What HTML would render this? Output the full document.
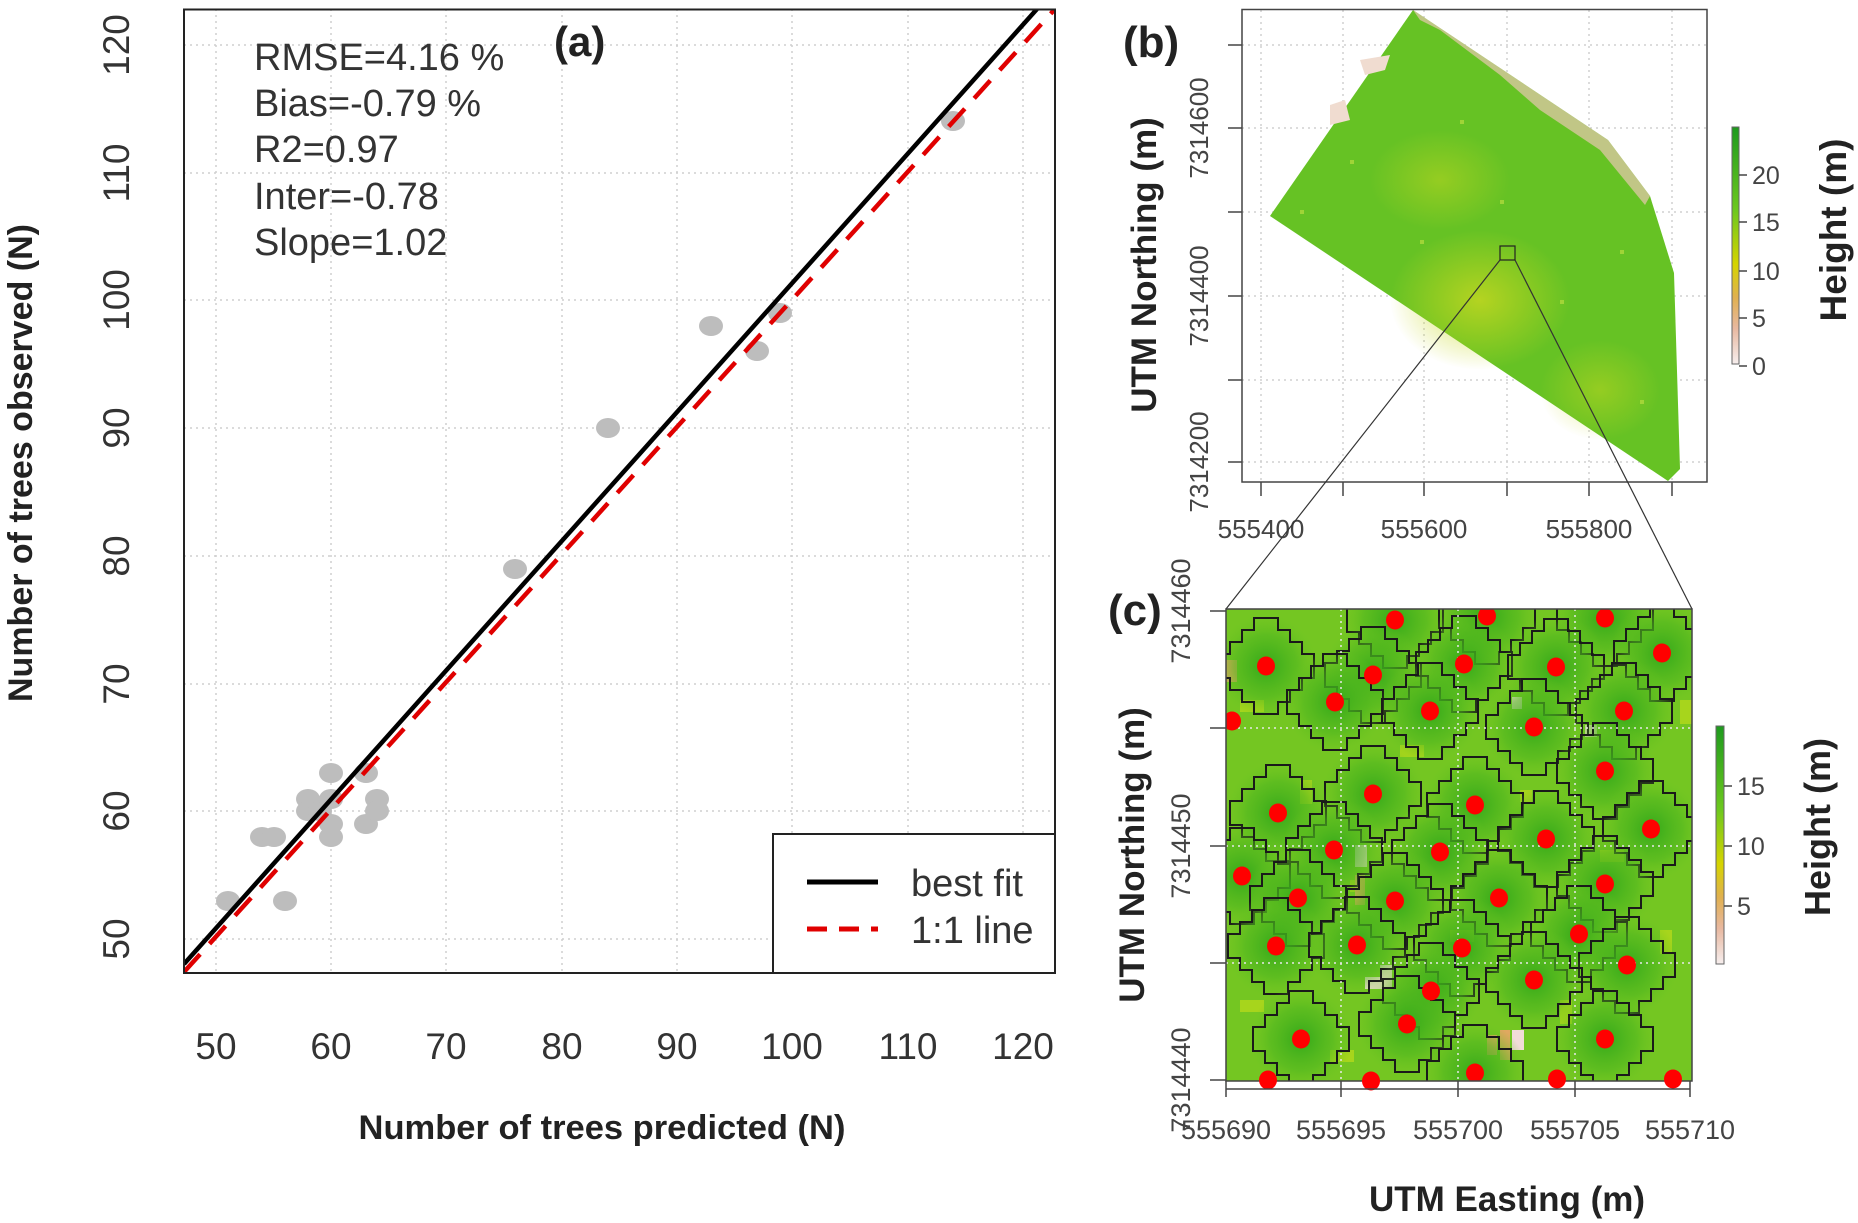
<!DOCTYPE html>
<html><head><meta charset="utf-8"><style>
html,body{margin:0;padding:0;background:#fff}
svg{display:block}
text{font-family:"Liberation Sans",sans-serif}
.t{fill:#333}
.b{font-weight:bold;fill:#222}
</style></head><body>
<svg width="1858" height="1223" viewBox="0 0 1858 1223" xmlns="http://www.w3.org/2000/svg">
<defs>
<clipPath id="ca"><rect x="184" y="9.5" width="871" height="963.5"/></clipPath>
<clipPath id="cc"><rect x="1226" y="609" width="466" height="472"/></clipPath>
<linearGradient id="cb" x1="0" y1="0" x2="0" y2="1">
<stop offset="0" stop-color="#1e9a1e"/><stop offset="0.35" stop-color="#6cc81e"/>
<stop offset="0.58" stop-color="#d6d400"/><stop offset="0.72" stop-color="#e0b050"/>
<stop offset="0.85" stop-color="#e8b8a0"/><stop offset="1" stop-color="#f6eeee"/></linearGradient>
<radialGradient id="yel" cx="0.5" cy="0.5" r="0.5"><stop offset="0" stop-color="#c8d820" stop-opacity="0.8"/><stop offset="1" stop-color="#c8d820" stop-opacity="0"/></radialGradient>
<radialGradient id="dk" cx="0.5" cy="0.5" r="0.5"><stop offset="0" stop-color="#33a81a"/><stop offset="0.6" stop-color="#4fb71e" stop-opacity="0.6"/><stop offset="1" stop-color="#6cc520" stop-opacity="0"/></radialGradient>
<g id="cr"><circle r="52" fill="url(#dk)"/><path d="M-12,-48H12V-36H24V-24H36V-12H48V12H36V24H24V36H12V48H-12V36H-24V24H-36V12H-48V-12H-36V-24H-24V-36H-12Z" fill="none" stroke="#1a1a1a" stroke-width="2"/></g>
</defs>

<!-- Panel (a) -->
<g clip-path="url(#ca)">
<g stroke="#cfcfcf" stroke-width="1.5" stroke-dasharray="2,4">
<line x1="216" y1="9" x2="216" y2="973"/><line x1="331" y1="9" x2="331" y2="973"/><line x1="446" y1="9" x2="446" y2="973"/><line x1="562" y1="9" x2="562" y2="973"/><line x1="677" y1="9" x2="677" y2="973"/><line x1="792" y1="9" x2="792" y2="973"/><line x1="908" y1="9" x2="908" y2="973"/><line x1="1023" y1="9" x2="1023" y2="973"/>
<line x1="184" y1="939" x2="1055" y2="939"/><line x1="184" y1="811" x2="1055" y2="811"/><line x1="184" y1="684" x2="1055" y2="684"/><line x1="184" y1="556" x2="1055" y2="556"/><line x1="184" y1="428" x2="1055" y2="428"/><line x1="184" y1="300" x2="1055" y2="300"/><line x1="184" y1="173" x2="1055" y2="173"/><line x1="184" y1="45" x2="1055" y2="45"/>
</g>
<g fill="#bdbdbd">
<ellipse cx="228" cy="901" rx="12" ry="10"/><ellipse cx="262" cy="837" rx="12" ry="10"/><ellipse cx="274" cy="837" rx="12" ry="10"/><ellipse cx="285" cy="901" rx="12" ry="10"/>
<ellipse cx="308" cy="799" rx="12" ry="10"/><ellipse cx="308" cy="811" rx="12" ry="10"/><ellipse cx="320" cy="811" rx="12" ry="10"/>
<ellipse cx="331" cy="773" rx="12" ry="10"/><ellipse cx="331" cy="799" rx="12" ry="10"/><ellipse cx="331" cy="824" rx="12" ry="10"/><ellipse cx="331" cy="837" rx="12" ry="10"/>
<ellipse cx="366" cy="773" rx="12" ry="10"/><ellipse cx="366" cy="824" rx="12" ry="10"/><ellipse cx="377" cy="799" rx="12" ry="10"/><ellipse cx="377" cy="811" rx="12" ry="10"/>
<ellipse cx="515" cy="569" rx="12" ry="10"/><ellipse cx="608" cy="428" rx="12" ry="10"/><ellipse cx="711" cy="326" rx="12" ry="10"/><ellipse cx="757" cy="351" rx="12" ry="10"/><ellipse cx="780" cy="313" rx="12" ry="10"/><ellipse cx="953" cy="121" rx="12" ry="10"/>
</g>
<line x1="184" y1="972" x2="1055" y2="9" stroke="#e00000" stroke-width="4.5" stroke-dasharray="24,14"/>
<line x1="184" y1="964" x2="1037" y2="9" stroke="#000" stroke-width="4.5"/>
</g>
<rect x="184" y="9.5" width="871" height="963.5" fill="none" stroke="#222" stroke-width="2"/>
<rect x="773" y="834" width="282" height="139" fill="#fff" stroke="#222" stroke-width="2"/>
<line x1="807" y1="882" x2="878" y2="882" stroke="#000" stroke-width="5"/>
<line x1="807" y1="929" x2="878" y2="929" stroke="#e00000" stroke-width="5" stroke-dasharray="20,12"/>
<text x="911" y="896" font-size="38" class="t">best fit</text>
<text x="911" y="943" font-size="38" class="t">1:1 line</text>
<g font-size="38" class="t">
<text x="254" y="70">RMSE=4.16 %</text><text x="254" y="116">Bias=-0.79 %</text><text x="254" y="162">R2=0.97</text><text x="254" y="209">Inter=-0.78</text><text x="254" y="255">Slope=1.02</text>
</g>
<text x="554" y="56" font-size="42" class="b">(a)</text>
<g font-size="37" class="t" text-anchor="middle">
<text x="216" y="1059">50</text><text x="331" y="1059">60</text><text x="446" y="1059">70</text><text x="562" y="1059">80</text><text x="677" y="1059">90</text><text x="792" y="1059">100</text><text x="908" y="1059">110</text><text x="1023" y="1059">120</text>
</g>
<g font-size="37" class="t" text-anchor="middle">
<text transform="translate(129,939) rotate(-90)">50</text><text transform="translate(129,811) rotate(-90)">60</text><text transform="translate(129,684) rotate(-90)">70</text><text transform="translate(129,556) rotate(-90)">80</text><text transform="translate(129,428) rotate(-90)">90</text><text transform="translate(129,300) rotate(-90)">100</text><text transform="translate(129,173) rotate(-90)">110</text><text transform="translate(129,45) rotate(-90)">120</text>
</g>
<text x="602" y="1139" font-size="34.5" class="b" text-anchor="middle">Number of trees predicted (N)</text>
<text transform="translate(32,463) rotate(-90)" font-size="34" class="b" text-anchor="middle">Number of trees observed (N)</text>

<!-- Panel (b) -->
<g stroke="#d0d0d0" stroke-width="1.5" stroke-dasharray="2,4">
<line x1="1261" y1="10" x2="1261" y2="482"/><line x1="1343" y1="10" x2="1343" y2="482"/><line x1="1424" y1="10" x2="1424" y2="482"/><line x1="1507" y1="10" x2="1507" y2="482"/><line x1="1589" y1="10" x2="1589" y2="482"/><line x1="1672" y1="10" x2="1672" y2="482"/>
<line x1="1242" y1="45" x2="1707" y2="45"/><line x1="1242" y1="128" x2="1707" y2="128"/><line x1="1242" y1="212" x2="1707" y2="212"/><line x1="1242" y1="296" x2="1707" y2="296"/><line x1="1242" y1="380" x2="1707" y2="380"/><line x1="1242" y1="462" x2="1707" y2="462"/>
</g>
<polygon points="1413,10 1608,140 1650,196 1674,273 1680,469 1668,481 1270,216" fill="#66c224"/>
<ellipse cx="1480" cy="300" rx="90" ry="70" fill="url(#yel)"/>
<ellipse cx="1440" cy="180" rx="70" ry="50" fill="url(#yel)" opacity="0.6"/>
<ellipse cx="1600" cy="390" rx="60" ry="50" fill="url(#yel)" opacity="0.6"/>
<polygon points="1413,10 1608,140 1650,196 1645,205 1600,150 1540,110 1500,75 1440,30 1420,20" fill="#e8c8b0" opacity="0.7"/>
<polygon points="1360,60 1390,55 1385,70 1365,75" fill="#f0dcd0"/>
<polygon points="1330,105 1345,100 1350,120 1330,125" fill="#f0dcd0"/>
<g fill="#b8dc40" opacity="0.7"><rect x="1350" y="160" width="4" height="4"/><rect x="1420" y="240" width="4" height="4"/><rect x="1500" y="200" width="4" height="4"/><rect x="1560" y="300" width="4" height="4"/><rect x="1620" y="250" width="4" height="4"/><rect x="1460" y="120" width="4" height="4"/><rect x="1300" y="210" width="4" height="4"/><rect x="1640" y="400" width="4" height="4"/></g>
<rect x="1242" y="9.5" width="465" height="472.5" fill="none" stroke="#444" stroke-width="1.5"/>
<g stroke="#444" stroke-width="1.5">
<line x1="1261" y1="482" x2="1261" y2="496"/><line x1="1343" y1="482" x2="1343" y2="496"/><line x1="1424" y1="482" x2="1424" y2="496"/><line x1="1507" y1="482" x2="1507" y2="496"/><line x1="1589" y1="482" x2="1589" y2="496"/><line x1="1672" y1="482" x2="1672" y2="496"/>
<line x1="1228" y1="45" x2="1242" y2="45"/><line x1="1228" y1="128" x2="1242" y2="128"/><line x1="1228" y1="212" x2="1242" y2="212"/><line x1="1228" y1="296" x2="1242" y2="296"/><line x1="1228" y1="380" x2="1242" y2="380"/><line x1="1228" y1="462" x2="1242" y2="462"/>
</g>
<g font-size="26" fill="#444" text-anchor="middle">
<text x="1261" y="538">555400</text><text x="1424" y="538">555600</text><text x="1589" y="538">555800</text>
<text transform="translate(1208,128) rotate(-90)">7314600</text><text transform="translate(1208,296) rotate(-90)">7314400</text><text transform="translate(1208,462) rotate(-90)">7314200</text>
</g>
<text transform="translate(1156,265) rotate(-90)" font-size="35" class="b" text-anchor="middle">UTM Northing (m)</text>
<text x="1123" y="57" font-size="44" class="b" fill="#111">(b)</text>
<rect x="1732" y="127" width="7" height="237" fill="url(#cb)" stroke="#666" stroke-width="1"/>
<g stroke="#444" stroke-width="1.5"><line x1="1739" y1="175" x2="1747" y2="175"/><line x1="1739" y1="222" x2="1747" y2="222"/><line x1="1739" y1="271" x2="1747" y2="271"/><line x1="1739" y1="318" x2="1747" y2="318"/><line x1="1739" y1="366" x2="1747" y2="366"/></g>
<g font-size="25" fill="#444"><text x="1752" y="184">20</text><text x="1752" y="231">15</text><text x="1752" y="280">10</text><text x="1752" y="327">5</text><text x="1752" y="375">0</text></g>
<text transform="translate(1846,230) rotate(-90)" font-size="37" class="b" text-anchor="middle">Height (m)</text>
<rect x="1500" y="246" width="15" height="14" fill="none" stroke="#222" stroke-width="1.2"/>
<line x1="1500" y1="260" x2="1226" y2="609" stroke="#333" stroke-width="1.2"/>
<line x1="1515" y1="260" x2="1692" y2="609" stroke="#333" stroke-width="1.2"/>

<!-- Panel (c) -->
<g clip-path="url(#cc)">
<rect x="1226" y="609" width="466" height="472" fill="#74c622"/>
<g fill="#b4d81c" opacity="0.8">
<rect x="1240" y="700" width="24" height="12"/><rect x="1300" y="780" width="12" height="24"/><rect x="1400" y="745" width="24" height="12"/><rect x="1520" y="790" width="12" height="12"/><rect x="1600" y="850" width="24" height="12"/><rect x="1350" y="880" width="12" height="12"/><rect x="1450" y="930" width="24" height="12"/><rect x="1560" y="1000" width="12" height="24"/><rect x="1660" y="930" width="12" height="24"/><rect x="1240" y="1000" width="24" height="12"/><rect x="1330" y="1050" width="24" height="12"/><rect x="1680" y="700" width="12" height="24"/>
</g>
<g fill="#e0a860"><rect x="1226" y="660" width="11" height="22"/><rect x="1355" y="875" width="10" height="30"/><rect x="1500" y="1030" width="10" height="30"/><rect x="1487" y="1035" width="10" height="20"/></g>
<g fill="#f2dcd8"><rect x="1380" y="965" width="12" height="24"/><rect x="1365" y="977" width="15" height="12"/><rect x="1355" y="845" width="12" height="22"/><rect x="1512" y="1030" width="12" height="20"/><rect x="1585" y="725" width="12" height="12"/><rect x="1512" y="697" width="10" height="12"/></g>
<use href="#cr" x="1395" y="620"/><use href="#cr" x="1487" y="616"/><use href="#cr" x="1605" y="618"/><use href="#cr" x="1662" y="653"/><use href="#cr" x="1266" y="666"/><use href="#cr" x="1373" y="675"/><use href="#cr" x="1464" y="664"/><use href="#cr" x="1556" y="667"/><use href="#cr" x="1335" y="702"/><use href="#cr" x="1430" y="711"/><use href="#cr" x="1624" y="711"/><use href="#cr" x="1534" y="727"/><use href="#cr" x="1605" y="771"/><use href="#cr" x="1373" y="794"/><use href="#cr" x="1278" y="813"/><use href="#cr" x="1475" y="805"/><use href="#cr" x="1651" y="829"/><use href="#cr" x="1546" y="839"/><use href="#cr" x="1334" y="850"/><use href="#cr" x="1440" y="852"/><use href="#cr" x="1242" y="876"/><use href="#cr" x="1605" y="884"/><use href="#cr" x="1298" y="898"/><use href="#cr" x="1395" y="901"/><use href="#cr" x="1499" y="898"/><use href="#cr" x="1579" y="934"/><use href="#cr" x="1276" y="946"/><use href="#cr" x="1357" y="945"/><use href="#cr" x="1462" y="948"/><use href="#cr" x="1627" y="965"/><use href="#cr" x="1534" y="980"/><use href="#cr" x="1431" y="991"/><use href="#cr" x="1407" y="1024"/><use href="#cr" x="1301" y="1039"/><use href="#cr" x="1605" y="1039"/><use href="#cr" x="1475" y="1073"/>
<g stroke="#e8e8e8" stroke-width="1.5" stroke-dasharray="2,4"><line x1="1341" y1="609" x2="1341" y2="1081"/><line x1="1458" y1="609" x2="1458" y2="1081"/><line x1="1575" y1="609" x2="1575" y2="1081"/><line x1="1226" y1="728" x2="1692" y2="728"/><line x1="1226" y1="846" x2="1692" y2="846"/><line x1="1226" y1="963" x2="1692" y2="963"/></g>
<g fill="#f00">
<ellipse cx="1395" cy="620" rx="9" ry="9.5"/><ellipse cx="1487" cy="616" rx="9" ry="9.5"/><ellipse cx="1605" cy="618" rx="9" ry="9.5"/><ellipse cx="1662" cy="653" rx="9" ry="9.5"/><ellipse cx="1266" cy="666" rx="9" ry="9.5"/><ellipse cx="1373" cy="675" rx="9" ry="9.5"/><ellipse cx="1464" cy="664" rx="9" ry="9.5"/><ellipse cx="1556" cy="667" rx="9" ry="9.5"/><ellipse cx="1335" cy="702" rx="9" ry="9.5"/><ellipse cx="1430" cy="711" rx="9" ry="9.5"/><ellipse cx="1624" cy="711" rx="9" ry="9.5"/><ellipse cx="1232" cy="721" rx="9" ry="9.5"/><ellipse cx="1534" cy="727" rx="9" ry="9.5"/><ellipse cx="1605" cy="771" rx="9" ry="9.5"/><ellipse cx="1373" cy="794" rx="9" ry="9.5"/><ellipse cx="1278" cy="813" rx="9" ry="9.5"/><ellipse cx="1475" cy="805" rx="9" ry="9.5"/><ellipse cx="1651" cy="829" rx="9" ry="9.5"/><ellipse cx="1546" cy="839" rx="9" ry="9.5"/><ellipse cx="1334" cy="850" rx="9" ry="9.5"/><ellipse cx="1440" cy="852" rx="9" ry="9.5"/><ellipse cx="1242" cy="876" rx="9" ry="9.5"/><ellipse cx="1605" cy="884" rx="9" ry="9.5"/><ellipse cx="1298" cy="898" rx="9" ry="9.5"/><ellipse cx="1395" cy="901" rx="9" ry="9.5"/><ellipse cx="1499" cy="898" rx="9" ry="9.5"/><ellipse cx="1579" cy="934" rx="9" ry="9.5"/><ellipse cx="1276" cy="946" rx="9" ry="9.5"/><ellipse cx="1357" cy="945" rx="9" ry="9.5"/><ellipse cx="1462" cy="948" rx="9" ry="9.5"/><ellipse cx="1627" cy="965" rx="9" ry="9.5"/><ellipse cx="1534" cy="980" rx="9" ry="9.5"/><ellipse cx="1431" cy="991" rx="9" ry="9.5"/><ellipse cx="1407" cy="1024" rx="9" ry="9.5"/><ellipse cx="1301" cy="1039" rx="9" ry="9.5"/><ellipse cx="1605" cy="1039" rx="9" ry="9.5"/><ellipse cx="1475" cy="1073" rx="9" ry="9.5"/>
</g>
</g>
<rect x="1226" y="609" width="466" height="472" fill="none" stroke="#444" stroke-width="1.5"/>
<g fill="#f00"><ellipse cx="1268" cy="1080" rx="9" ry="9.5"/><ellipse cx="1371" cy="1081" rx="9" ry="9.5"/><ellipse cx="1557" cy="1079" rx="9" ry="9.5"/><ellipse cx="1673" cy="1079" rx="9" ry="9.5"/></g>
<g stroke="#444" stroke-width="1.5">
<line x1="1226" y1="1081" x2="1226" y2="1097"/><line x1="1341" y1="1081" x2="1341" y2="1097"/><line x1="1458" y1="1081" x2="1458" y2="1097"/><line x1="1575" y1="1081" x2="1575" y2="1097"/><line x1="1690" y1="1081" x2="1690" y2="1097"/><line x1="1226" y1="1089" x2="1690" y2="1089"/>
<line x1="1210" y1="611" x2="1226" y2="611"/><line x1="1210" y1="728" x2="1226" y2="728"/><line x1="1210" y1="846" x2="1226" y2="846"/><line x1="1210" y1="963" x2="1226" y2="963"/><line x1="1210" y1="1080" x2="1226" y2="1080"/>
</g>
<g font-size="27" fill="#444" text-anchor="middle">
<text x="1226" y="1139">555690</text><text x="1341" y="1139">555695</text><text x="1458" y="1139">555700</text><text x="1575" y="1139">555705</text><text x="1690" y="1139">555710</text>
<text transform="translate(1190,611) rotate(-90)">7314460</text><text transform="translate(1190,846) rotate(-90)">7314450</text><text transform="translate(1190,1080) rotate(-90)">7314440</text>
</g>
<text x="1507" y="1211" font-size="35" class="b" text-anchor="middle">UTM Easting (m)</text>
<text transform="translate(1144,855) rotate(-90)" font-size="35" class="b" text-anchor="middle">UTM Northing (m)</text>
<text x="1108" y="625" font-size="44" class="b" fill="#111">(c)</text>
<rect x="1716" y="726" width="8" height="238" fill="url(#cb)" stroke="#666" stroke-width="1"/>
<g stroke="#444" stroke-width="1.5"><line x1="1724" y1="786" x2="1732" y2="786"/><line x1="1724" y1="846" x2="1732" y2="846"/><line x1="1724" y1="906" x2="1732" y2="906"/></g>
<g font-size="25" fill="#444"><text x="1737" y="795">15</text><text x="1737" y="855">10</text><text x="1737" y="915">5</text></g>
<text transform="translate(1830,827) rotate(-90)" font-size="36" class="b" text-anchor="middle">Height (m)</text>
</svg>
</body></html>
